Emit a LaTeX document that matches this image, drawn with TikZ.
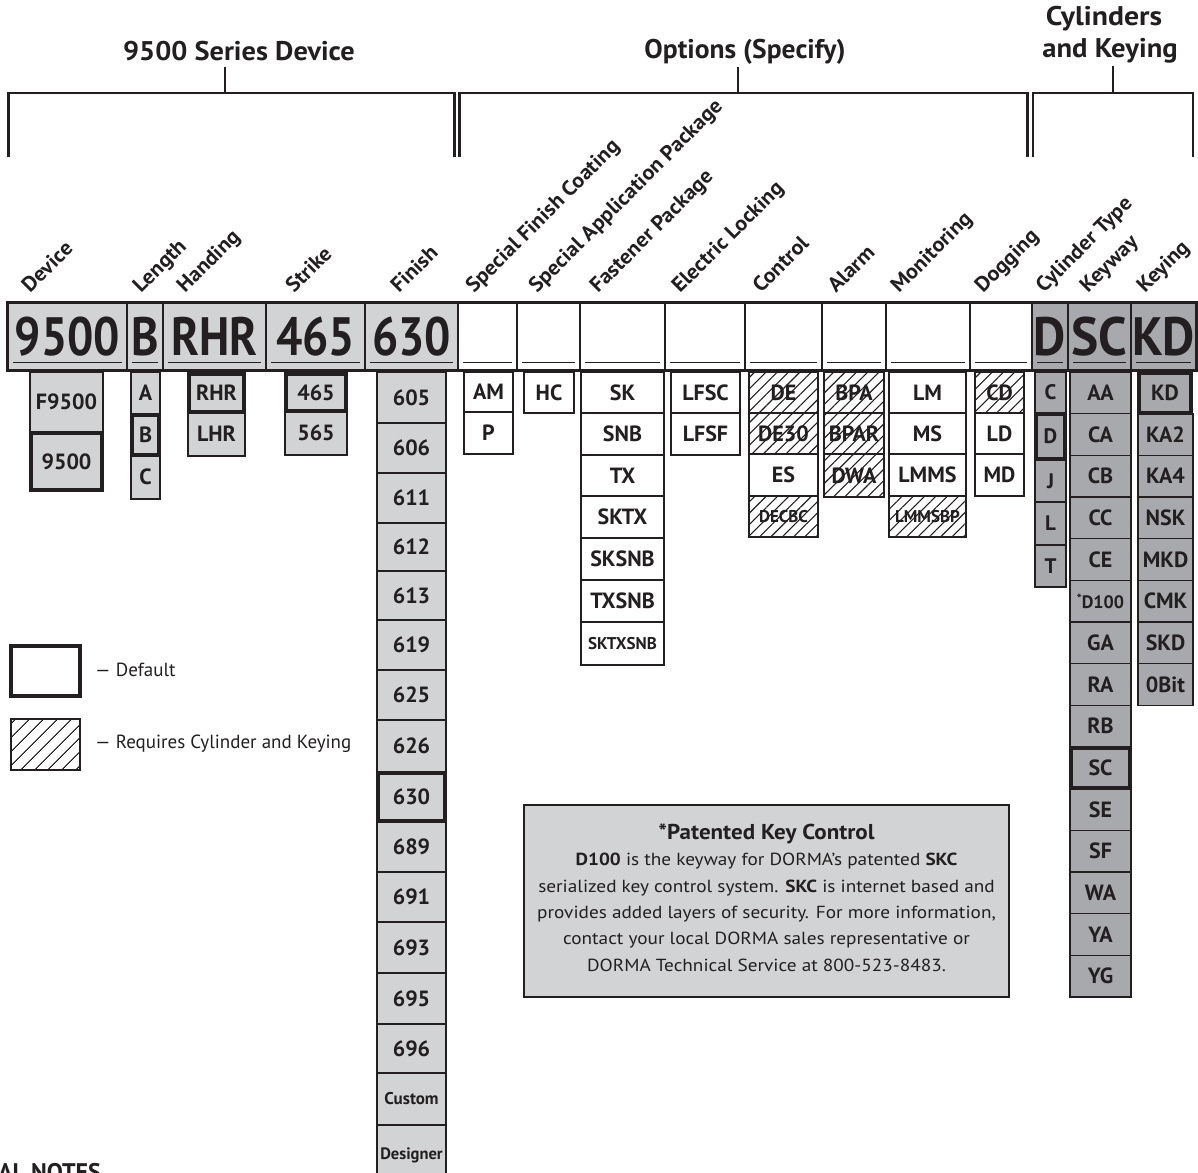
\documentclass[tikz,border=0pt]{standalone}
\usepackage{fontspec}
\usepackage{graphicx}
\setmainfont{PT Sans}
\usetikzlibrary{patterns.meta}
\definecolor{ink}{HTML}{231F20}
\definecolor{lg}{HTML}{D1D3D4}
\definecolor{dg}{HTML}{A7A9AC}
\newcommand{\nw}[2]{\scalebox{#1}[1]{#2}}
\newcommand{\myfs}[1]{\fontsize{#1}{#1}\selectfont}
\newcommand{\bx}[7]{%
  \pgfmathsetmacro{\mybw}{#5-#3}%
  \pgfmathsetmacro{\mybh}{#6-#4}%
  \pgfmathsetmacro{\mycx}{(#3+#5)/2}%
  \pgfmathsetmacro{\mycy}{(#4+#6)/2}%
  \node[#1, minimum width=\mybw pt, minimum height=\mybh pt] (#2) at (\mycx,\mycy) {#7};}
\newcommand{\dhundred}{{\myfs{18}\raisebox{5pt}{\myfs{13}*}D100}}
\begin{document}
\begin{tikzpicture}[x=1pt,y=-1pt,
  gb/.style={draw=ink, line width=1.5pt, fill=lg, inner sep=0pt, text=ink, font=\myfs{22}\bfseries},
  db/.style={gb, fill=dg},
  wb/.style={gb, fill=white},
  hb/.style={gb, fill=white, postaction={pattern={Lines[angle=45,distance=8pt,line width=1.1pt]}, pattern color=ink}},
  dflt/.style={line width=4pt},
  mr/.style={draw=ink, line width=1.3pt, inner sep=0pt, text=ink, font=\myfs{54}\bfseries},
  ul/.style={draw=ink, line width=0.8pt},
  br/.style={draw=ink, line width=2.5pt},
  hd/.style={inner sep=0pt, text=ink, font=\myfs{27}\bfseries},
  rl/.style={rotate=45, anchor=base west, inner sep=0pt, text=ink, font=\myfs{21}\bfseries},
  lt/.style={anchor=west, inner sep=0pt, text=ink, font=\myfs{19}}
]
\useasboundingbox (0,0) rectangle (1198,1172);
\fill[white] (0,0) rectangle (1198,1172);

% ---------- headers and brackets
\node[hd, anchor=base] (hdev) at (239,60) {\nw{1.05}{9500 Series Device}};
\node[hd, anchor=base] (hopt) at (745,59) {\nw{1.02}{Options (Specify)}};
\node[hd, anchor=base] (hcyl1) at (1104,26) {\nw{1.1}{Cylinders}};
\node[hd, anchor=base] (hcyl2) at (1110,58) {\nw{1.06}{and Keying}};
\coordinate (b1m) at (225,93);
\coordinate (b2m) at (738,93);
\coordinate (b3m) at (1113,93);
\draw[br] (8.5,157) -- (8.5,93) -- (454.5,93) -- (454.5,157);
\draw[br] (459.5,157) -- (459.5,93) -- (1027.5,93) -- (1027.5,157);
\draw[br] (1033,157) -- (1033,93) -- (1193,93) -- (1193,157);
\draw[br] (hdev.south -| b1m) ++(0,6) -- (b1m);
\draw[br] (hopt.south -| b2m) ++(0,2) -- (b2m);
\draw[br] (hcyl2.south -| b3m) ++(0,2) -- (b3m);

% ---------- rotated column labels
\node[rl] (rDevice) at (30,294) {\nw{1.05}{Device}};
\node[rl] (rLength) at (141,294) {\nw{1.05}{Length}};
\node[rl] (rHanding) at (185,294) {\nw{1.05}{Handing}};
\node[rl] (rStrike) at (294,294) {\nw{1.05}{Strike}};
\node[rl] (rFinish) at (399,294) {\nw{1.05}{Finish}};
\node[rl] (rSFC) at (474,294) {\nw{1.05}{Special Finish Coating}};
\node[rl] (rSAP) at (537,294) {\nw{1.05}{Special Application Package}};
\node[rl] (rFP) at (598,294) {\nw{1.05}{Fastener Package}};
\node[rl] (rEL) at (680,294) {\nw{1.05}{Electric Locking}};
\node[rl] (rControl) at (761,294) {\nw{1.05}{Control}};
\node[rl] (rAlarm) at (836,294) {\nw{1.05}{Alarm}};
\node[rl] (rMon) at (899,294) {\nw{1.05}{Monitoring}};
\node[rl] (rDog) at (983,294) {\nw{1.05}{Dogging}};
\node[rl] (rCyl) at (1044,294) {\nw{1.05}{Cylinder Type}};
\node[rl] (rKeyway) at (1088,294) {\nw{1.05}{Keyway}};
\node[rl] (rKeying) at (1145,294) {\nw{1.05}{Keying}};

% ---------- main row
\bx{mr,fill=lg}{c9500}{8}{303}{127}{370}{\nw{.86}{9500}}
\bx{mr,fill=lg}{cB}{127}{303}{163}{370}{\nw{.86}{B}}
\bx{mr,fill=lg}{cRHR}{163}{303}{266}{370}{\nw{.86}{RHR}}
\bx{mr,fill=lg}{c465}{266}{303}{365}{370}{\nw{.86}{465}}
\bx{mr,fill=lg}{c630}{365}{303}{458}{370}{\nw{.86}{630}}
\bx{mr,fill=white}{o1}{458}{303}{517}{370}{}
\bx{mr,fill=white}{o2}{517}{303}{580}{370}{}
\bx{mr,fill=white}{o3}{580}{303}{665}{370}{}
\bx{mr,fill=white}{o4}{665}{303}{745}{370}{}
\bx{mr,fill=white}{o5}{745}{303}{822}{370}{}
\bx{mr,fill=white}{o6}{822}{303}{886}{370}{}
\bx{mr,fill=white}{o7}{886}{303}{970}{370}{}
\bx{mr,fill=white}{o8}{970}{303}{1032}{370}{}
\bx{mr,fill=dg}{cD}{1032}{303}{1068}{370}{\nw{.92}{D}}
\bx{mr,fill=dg}{cSC}{1068}{303}{1131}{370}{\nw{.95}{SC}}
\bx{mr,fill=dg}{cKD}{1131}{303}{1196}{370}{\nw{.92}{KD}}
\foreach \n in {c9500,cB,cRHR,c465,c630,o1,o2,o3,o4,o5,o6,o7,o8,cD,cSC,cKD}
  \draw[ul] ([xshift=6pt,yshift=8pt]\n.south west) -- ([xshift=-6pt,yshift=8pt]\n.south east);
\draw[draw=ink, line width=2.2pt] (c9500.north west) rectangle (cKD.south east);

% ---------- device
\bx{gb}{dF9500}{30}{372}{103}{432}{F9500}
\bx{gb,dflt}{d9500}{31}{433}{102}{490}{9500}
% ---------- length
\bx{gb}{lA}{131}{372}{160}{414}{A}
\bx{gb}{lC}{131}{455}{160}{499}{C}
\bx{gb,dflt}{lB}{132}{415}{159}{455}{B}
% ---------- handing
\bx{gb}{hLHR}{188}{412}{245}{456}{LHR}
\bx{gb,dflt}{hRHR}{189}{374}{244}{412}{RHR}
% ---------- strike
\bx{gb}{s565}{285}{411}{347}{455}{565}
\bx{gb,dflt}{s465}{286}{374}{346}{411}{465}
% ---------- finish
\foreach \a/\b/\t in {372/423/605,423/473/606,473/523/611,523/571/612,571/620/613,620/670/619,670/720/625,720/772/626,822/872/689,872/922/691,922/973/693,973/1024/695,1024/1073/696}
  {\bx{gb}{f\t}{377}{\a}{446}{\b}{\t}}
\bx{gb,font=\myfs{17}\bfseries}{fCustom}{377}{1073}{446}{1125}{Custom}
\bx{gb,font=\myfs{16.5}\bfseries}{fDesigner}{377}{1125}{446}{1185}{Designer}
\bx{gb,dflt}{f630}{378}{773}{445}{821}{630}

% ---------- options
\bx{wb}{oAM}{464}{372}{513}{412}{AM}
\bx{wb}{oP}{464}{412}{513}{454}{P}
\bx{wb}{oHC}{524}{372}{574}{413}{HC}
\bx{wb}{oSK}{581}{372}{664}{413}{SK}
\bx{wb}{oSNB}{581}{413}{664}{455}{SNB}
\bx{wb}{oTX}{581}{455}{664}{496}{TX}
\bx{wb}{oSKTX}{581}{496}{664}{538}{SKTX}
\bx{wb}{oSKSNB}{581}{538}{664}{580}{SKSNB}
\bx{wb}{oTXSNB}{581}{580}{664}{622}{TXSNB}
\bx{wb,font=\myfs{17}\bfseries}{oSKTXSNB}{581}{622}{664}{665}{SKTXSNB}
\bx{wb}{oLFSC}{671}{372}{740}{413}{LFSC}
\bx{wb}{oLFSF}{671}{413}{740}{455}{LFSF}
\bx{hb}{oDE}{749}{372}{818}{413}{DE}
\bx{hb}{oDE30}{749}{413}{818}{454}{DE30}
\bx{wb}{oES}{749}{454}{818}{496}{ES}
\bx{hb,font=\myfs{17}\bfseries}{oDECBC}{749}{496}{818}{537}{DECBC}
\bx{hb}{oBPA}{824}{372}{884}{413}{BPA}
\bx{hb}{oBPAR}{824}{413}{884}{454}{BPAR}
\bx{hb}{oDWA}{824}{454}{884}{497}{DWA}
\bx{wb}{oLM}{889}{372}{966}{413}{LM}
\bx{wb}{oMS}{889}{413}{966}{454}{MS}
\bx{wb}{oLMMS}{889}{454}{966}{496}{LMMS}
\bx{hb,font=\myfs{17}\bfseries}{oLMMSBP}{889}{496}{966}{537}{LMMSBP}
\bx{hb}{oCD}{975}{372}{1024}{413}{CD}
\bx{wb}{oLD}{975}{413}{1024}{454}{LD}
\bx{wb}{oMD}{975}{454}{1024}{496}{MD}

% ---------- cylinder type
\bx{db,font=\myfs{21}\bfseries}{yC}{1035}{372}{1066}{413}{C}
\bx{db,font=\myfs{21}\bfseries}{yJ}{1035}{460}{1066}{502}{J}
\bx{db,font=\myfs{21}\bfseries}{yL}{1035}{502}{1066}{545}{L}
\bx{db,font=\myfs{21}\bfseries}{yT}{1035}{545}{1066}{587}{T}
\bx{db,dflt,font=\myfs{21}\bfseries}{yD}{1036}{414}{1065}{459}{D}
% ---------- keyway
\foreach \n/\t [count=\i from 0] in {AA/AA,CA/CA,CB/CB,CC/CC,CE/CE,D100/\dhundred,GA/GA,RA/RA,RB/RB,SC/SC,SE/SE,SF/SF,WA/WA,YA/YA,YG/YG}
  {\ifnum\i=9\relax\else
   \pgfmathsetmacro{\ya}{372+41.67*\i}\pgfmathsetmacro{\yb}{372+41.67*(\i+1)}%
   \bx{db}{kw\n}{1070}{\ya}{1131}{\yb}{\t}\fi}
\bx{db,dflt}{kwSC}{1071}{748}{1130}{788}{SC}
% ---------- keying
\foreach \t [count=\i from 1] in {KA2,KA4,NSK,MKD,CMK,SKD,0Bit}
  {\pgfmathsetmacro{\ya}{372+41.67*\i}\pgfmathsetmacro{\yb}{372+41.67*(\i+1)}%
   \bx{db}{ky\t}{1138}{\ya}{1193}{\yb}{\t}}
\bx{db,dflt}{kyKD}{1139}{373}{1191}{413}{KD}

% ---------- legend
\bx{wb,dflt}{legdef}{11}{646}{80}{696}{}
\bx{gb,fill=white,line width=1.8pt,postaction={pattern={Lines[angle=45,distance=10.5pt,line width=1.2pt]}, pattern color=ink}}{leghat}{11}{719}{80}{770}{}
\node[lt] (tdef) at (95,670) {— Default};
\node[lt] (that) at (95,744) {— Requires Cylinder and Keying};

% ---------- note
\node[draw=ink, line width=1.5pt, fill=lg, minimum width=485pt, minimum height=192pt, inner sep=0pt] (note) at (766.5,901) {};
\node[align=center, font=\fontsize{17.5}{26.3}\selectfont, text=ink, inner sep=0pt] (notetext) at ([yshift=3.5pt]note.center)
 {{\bfseries\fontsize{21.5}{26}\selectfont \nw{1.07}{*Patented Key Control}}\\
  \nw{1.1}{\textbf{D100} is the keyway for DORMA’s patented \textbf{SKC}}\\
  \nw{1.1}{serialized key control system. \textbf{SKC} is internet based and}\\
  \nw{1.1}{provides added layers of security. For more information,}\\
  \nw{1.1}{contact your local DORMA sales representative or}\\
  \nw{1.1}{DORMA Technical Service at 800-523-8483.}};

% ---------- cut-off note heading
\node[anchor=base west, inner sep=0pt, text=ink, font=\myfs{24}\bfseries] (gnotes) at (-2,1180) {AL NOTES};
\end{tikzpicture}
\end{document}
